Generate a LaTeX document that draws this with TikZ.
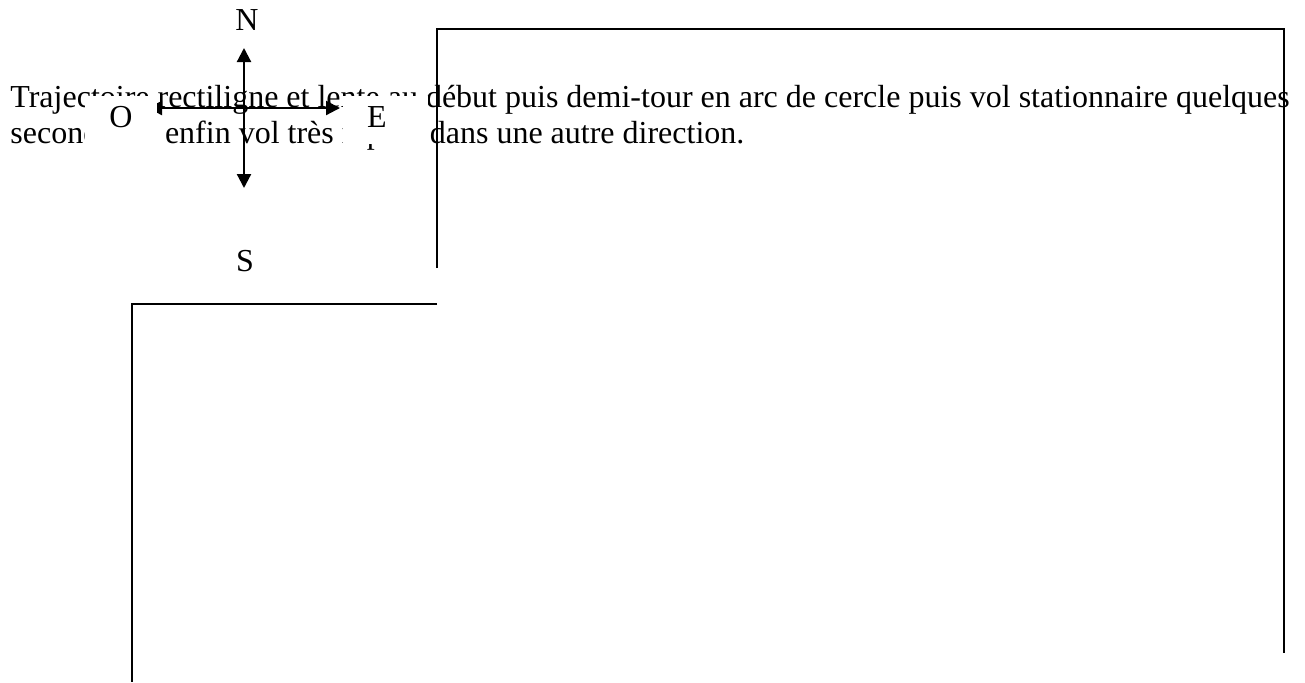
\documentclass[tikz,border=0pt]{standalone}
\usepackage{fontspec}
\setmainfont{Liberation Serif}
\usetikzlibrary{arrows.meta}
\begin{document}
\begin{tikzpicture}[x=0.5pt,y=-0.5pt,
  txt/.style={anchor=base west, inner sep=0pt, font=\fontsize{16}{19}\selectfont},
  lbl/.style={inner sep=0pt, font=\fontsize{16}{19}\selectfont},
  mask/.style={fill=white, inner sep=0pt},
  dirarrow/.style={{Triangle[length=7pt,width=7pt]}-{Triangle[length=7pt,width=7pt]}, line width=1.1pt},
  frameline/.style={line width=1.1pt}]
\useasboundingbox (0,0) rectangle (1305,682);
% text
\node[txt] (l1) at (10,107) {Trajectoire rectiligne et lente au début puis demi-tour en arc de cercle puis vol stationnaire quelques};
\node[txt] (l2) at (10,143) {secondes et enfin vol très rapide dans une autre direction.};
% frames
\coordinate (a1) at (437,268);
\coordinate (a2) at (437,29);
\coordinate (a3) at (1284,29);
\coordinate (a4) at (1284,653);
\draw[frameline] (a1) -- (a2) -- (a3) -- (a4);
\coordinate (b1) at (437,304);
\coordinate (b2) at (132,304);
\coordinate (b3) at (132,682);
\draw[frameline] (b1) -- (b2) -- (b3);
% compass arrows
\coordinate (Nt) at (244,48);
\coordinate (St) at (244,188);
\coordinate (Wt) at (148,108);
\coordinate (Et) at (340,108);
\draw[dirarrow] (St) -- (Nt);
\draw[dirarrow] (Wt) -- (Et);
% label masks
\node[mask, minimum width=36pt, minimum height=24pt] (Obox) at (121,120) {};
\node[mask, minimum width=42.5pt, minimum height=24pt] (Ebox) at (385.5,120) {};
% labels
\node[lbl] (N) at (247,20) {N};
\node[lbl] (S) at (245,261) {S};
\node[lbl] (O) at (121,117) {O};
\node[lbl] (E) at (377,117) {E};
\end{tikzpicture}
\end{document}
